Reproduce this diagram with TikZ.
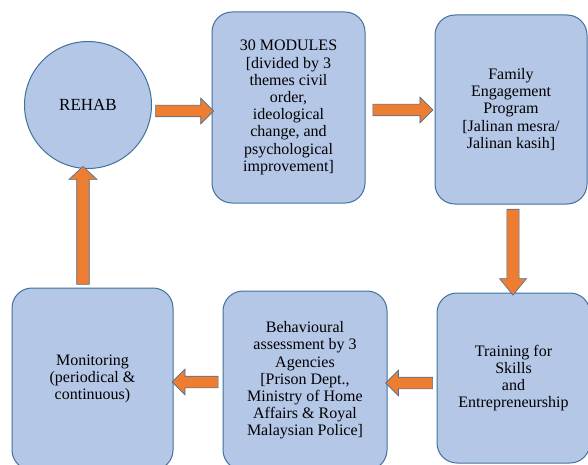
\documentclass[tikz,border=0pt]{standalone}
\usepackage{fontspec}
\setmainfont{Liberation Serif}
\newfontfamily\stagefont{Liberation Serif}
\usepackage{xcolor}
\usepackage{tikz}
\usetikzlibrary{arrows.meta, positioning, shapes}

\definecolor{boxfill}{HTML}{B4C7E7}
\definecolor{boxedge}{HTML}{41719C}
\definecolor{arroworange}{HTML}{ED7D31}

\tikzset{
    stagebox/.style={rounded corners=20pt, draw=boxedge, fill=boxfill, line width=1pt,
        align=center, inner sep=0pt, font=\stagefont\fontsize{16}{17.2}\selectfont},
    blockarr/.style={single arrow, draw=boxedge, fill=arroworange, line width=0.6pt,
        inner xsep=0pt, inner ysep=5.5pt, minimum width=24pt,
        single arrow tip angle=90, sloped, allow upside down, midway}
}

\begin{document}
\begin{tikzpicture}[x=1pt, y=-1pt]
            \useasboundingbox (0,0) rectangle (588,465);
            \clip (0,0) rectangle (588,465);

            \node[circle, draw=boxedge, fill=boxfill, line width=1pt, minimum size=127pt,
                font=\stagefont\fontsize{17}{18}\selectfont] (rehab) at (88,105) {REHAB};
            \node[stagebox, minimum width=153pt, minimum height=191pt] (modules) at (288.5,107.5) {
                30 MODULES \\
                {[}divided by 3 \\
                themes civil \\
                order, \\
                ideological \\
                change, and \\
                psychological \\
                improvement]
            };
            \node[stagebox, minimum width=152pt, minimum height=189pt] (family) at (511,109.5) {
                Family \\
                Engagement \\
                Program \\
                {[}Jalinan mesra/ \\
                Jalinan kasih]
            };
            \node[stagebox, minimum width=153pt, minimum height=170pt] (training) at (513.5,378) {
                Training for \\
                Skills \\
                and \\
                Entrepreneurship
            };
            \node[stagebox, minimum width=164pt, minimum height=179pt] (assess) at (305,380.5) {
                Behavioural \\
                assessment by 3 \\
                Agencies \\
                {[}Prison Dept., \\
                Ministry of Home \\
                Affairs \& Royal \\
                Malaysian Police]
            };
            \node[stagebox, minimum width=161pt, minimum height=182pt] (monitor) at (92.5,379) {
                Monitoring \\
                (periodical \& \\
                continuous)
            };

            % block arrows between the stages
            \path ([yshift=-6pt]rehab.east) -- ([yshift=-3.5pt]modules.west)
                node[blockarr, minimum height=58pt] {};
            \path ([yshift=-2.5pt]modules.east) -- ([yshift=-0.5pt]family.west)
                node[blockarr, minimum height=60pt] {};
            \path ([xshift=2pt]family.south) -- ([xshift=-0.5pt]training.north)
                node[blockarr, minimum height=86pt, minimum width=27pt, single arrow tip angle=78] {};
            \path ([yshift=-5pt]training.west) -- ([yshift=-2.5pt]assess.east)
                node[blockarr, minimum height=47pt, minimum width=22pt] {};
            \path ([yshift=-1.5pt]assess.west) -- ([yshift=-3pt]monitor.east)
                node[blockarr, minimum height=46pt, minimum width=22pt] {};
            \path ([xshift=-9.5pt]monitor.north) -- ([xshift=-5pt]rehab.south)
                node[blockarr, minimum height=118pt, minimum width=28pt, single arrow tip angle=94] {};
        \end{tikzpicture}
\end{document}
